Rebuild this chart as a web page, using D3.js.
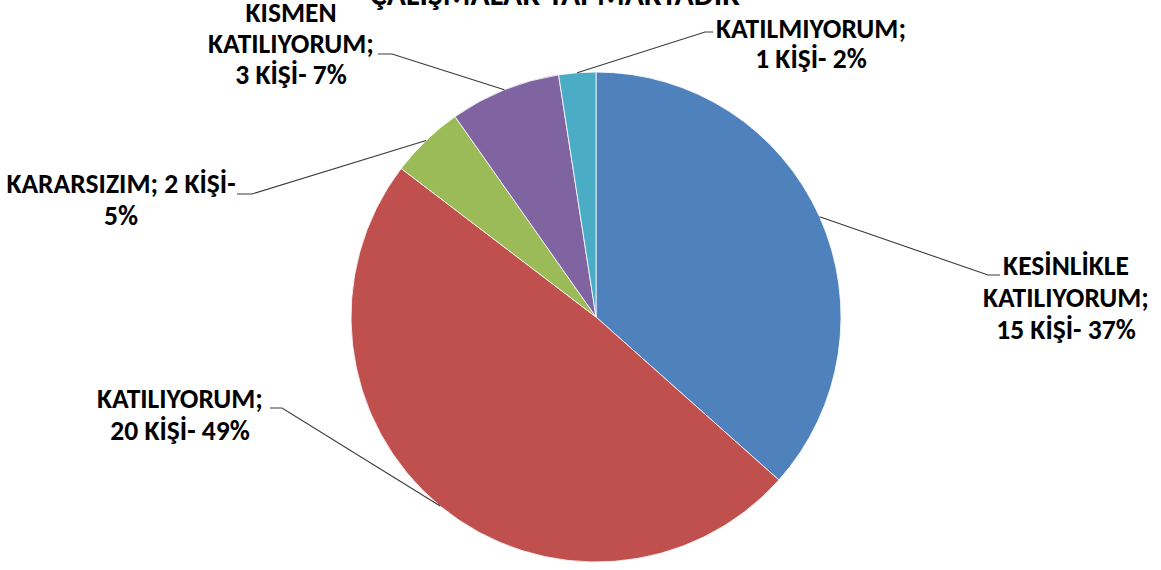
<!DOCTYPE html>
<html><head><meta charset="utf-8">
<script src="https://cdn.jsdelivr.net/npm/d3@7"></script>
<style>
html,body{margin:0;padding:0;background:#fff;}
svg{display:block;}
text{font-family:Carlito,Calibri,Lato,"Open Sans",sans-serif;font-weight:bold;fill:#000;}
</style></head>
<body>
<svg id="chart" width="1161" height="570"></svg>
<script>
// ---- data ----
const categories = ["KESİNLİKLE KATILIYORUM", "KATILIYORUM", "KARARSIZIM", "KISMEN KATILIYORUM", "KATILMIYORUM"];
const counts = [15, 20, 2, 3, 1];
const percents = ["37%", "49%", "5%", "7%", "2%"];
const colors = ["#4F81BD", "#C0504D", "#9BBB59", "#8064A2", "#4BACC6"];
const labelLines = [
  ["KESİNLİKLE", "KATILIYORUM;", "15 KİŞİ- 37%"],
  ["KATILIYORUM;", "20 KİŞİ- 49%"],
  ["KARARSIZIM; 2 KİŞİ-", "5%"],
  ["KISMEN", "KATILIYORUM;", "3 KİŞİ- 7%"],
  ["KATILMIYORUM;", "1 KİŞİ- 2%"]
];
const titleText = "ÇALIŞMALAR YAPMAKTADIR";

// ---- layout ----
const W = 1161, H = 570;
const cx = 596, cy = 317, R = 245;
// label layout relative to pie center: elbow point, line end, text center x, first baseline y, side
const labelLayout = [
  {elbow:[392,-42], end:[404,-42], tx:470, ty:-42, lh:32},
  {elbow:[-314,91], end:[-326,91], tx:-416, ty:91, lh:32},
  {elbow:[-344,-123], end:[-359,-123], tx:-475, ty:-124, lh:32},
  {elbow:[-204,-263], end:[-218,-263], tx:-305, ty:-295, lh:31},
  {elbow:[109,-285], end:[117,-285], tx:215, ty:-279, lh:30}
];

const svg = d3.select("#chart");

// fit font size: Calibri-like metric; measure reference string
function fitSize(str, targetW){
  const t = svg.append("text").attr("font-size", 100).text(str);
  const w = t.node().getComputedTextLength();
  t.remove();
  return 100 * targetW / w;
}
const labelSize = fitSize("KATILIYORUM;", 166);
const titleSize = fitSize(titleText, 370);

// title (cut off at top as in the reference)
svg.append("text")
  .attr("x", 555).attr("y", 5)
  .attr("text-anchor", "middle")
  .attr("font-size", titleSize)
  .text(titleText);

const pie = d3.pie().value(d => d).sort(null);
const arcs = pie(counts);
const arc = d3.arc().innerRadius(0).outerRadius(R);

const g = svg.append("g").attr("transform", `translate(${cx},${cy})`);

g.selectAll("path.slice").data(arcs).enter().append("path")
  .attr("class", "slice")
  .attr("d", arc)
  .attr("fill", (d, i) => colors[i])
  .attr("stroke", "#ffffff")
  .attr("stroke-width", 0.8);

// leader lines
const edgeArc = d3.arc().innerRadius(R).outerRadius(R);
g.selectAll("polyline.leader").data(arcs).enter().append("polyline")
  .attr("class", "leader")
  .attr("points", (d, i) => {
    const p = edgeArc.centroid(d);
    const L = labelLayout[i];
    return [p, L.elbow, L.end].map(q => q.join(",")).join(" ");
  })
  .attr("fill", "none")
  .attr("stroke", "#3a3a3a")
  .attr("stroke-width", 1.1);

// labels
arcs.forEach((d, i) => {
  const L = labelLayout[i];
  const t = g.append("text")
    .attr("text-anchor", "middle")
    .attr("font-size", labelSize);
  labelLines[i].forEach((line, k) => {
    t.append("tspan").attr("x", L.tx).attr("y", L.ty + k * L.lh).text(line);
  });
});
</script>
</body></html>
